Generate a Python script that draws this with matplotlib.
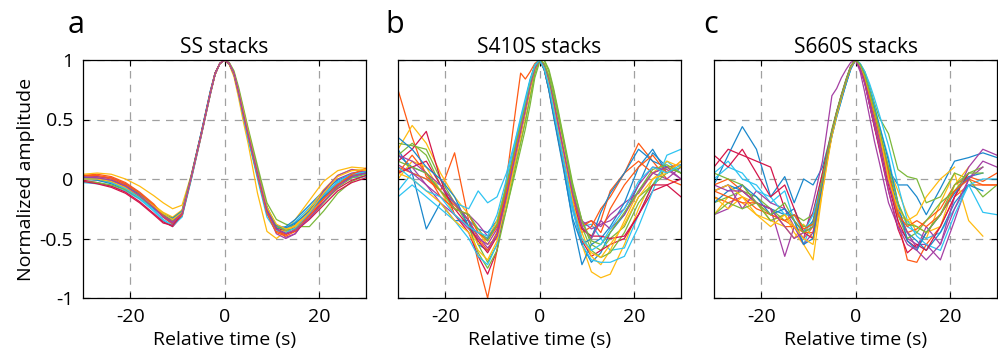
import numpy as np
import matplotlib
matplotlib.use("Agg")
import matplotlib.pyplot as plt

plt.rcParams['font.family'] = ['Open Sans', 'DejaVu Sans']

# shared time axis of the stacks (s)
t_sec = [-30, -27, -24, -21, -18, -15, -13, -11, -9, -7, -5, -4, -3, -2, -1, 0,
         1, 2, 3, 4, 5, 7, 9, 11, 13, 15, 18, 21, 24, 27, 30]
nan = np.nan

# panel a: SS stacks
ss_traces = [
    [0.02, 0.01, -0.01, -0.05, -0.12, -0.22, -0.31, -0.36, -0.29, 0.03, 0.37, 0.54, 0.72, 0.88, 0.97, 1.0, 0.97, 0.89, 0.73, 0.55, 0.38, 0.05, -0.26, -0.40, -0.42, -0.38, -0.26, -0.13, -0.03, 0.03, 0.06],
    [0.03, 0.04, 0.02, -0.03, -0.11, -0.21, -0.30, -0.37, -0.31, 0.01, 0.35, 0.53, 0.71, 0.88, 0.97, 1.0, 0.97, 0.89, 0.74, 0.56, 0.40, 0.07, -0.26, -0.43, -0.46, -0.40, -0.28, -0.15, -0.04, 0.04, 0.08],
    [0.04, 0.05, 0.04, 0.00, -0.06, -0.14, -0.20, -0.25, -0.22, 0.04, 0.37, 0.54, 0.72, 0.88, 0.97, 1.0, 0.96, 0.86, 0.68, 0.48, 0.30, -0.12, -0.44, -0.50, -0.44, -0.34, -0.18, -0.02, 0.07, 0.10, 0.09],
    [0.01, 0.00, -0.02, -0.07, -0.14, -0.24, -0.32, -0.38, -0.30, 0.02, 0.36, 0.54, 0.72, 0.88, 0.97, 1.0, 0.97, 0.89, 0.74, 0.56, 0.39, 0.07, -0.24, -0.42, -0.49, -0.46, -0.30, -0.12, 0.00, 0.05, 0.07],
    [0.00, -0.01, -0.03, -0.08, -0.15, -0.24, -0.31, -0.35, -0.28, 0.03, 0.37, 0.55, 0.73, 0.89, 0.97, 1.0, 0.98, 0.91, 0.77, 0.60, 0.43, 0.11, -0.20, -0.34, -0.38, -0.40, -0.40, -0.27, -0.12, -0.02, 0.03],
    [-0.03, -0.04, -0.06, -0.10, -0.17, -0.27, -0.35, -0.40, -0.31, 0.03, 0.38, 0.56, 0.74, 0.89, 0.97, 1.0, 0.97, 0.88, 0.71, 0.52, 0.34, 0.00, -0.32, -0.44, -0.42, -0.36, -0.24, -0.12, -0.03, 0.01, 0.02],
    [-0.01, -0.03, -0.06, -0.11, -0.19, -0.29, -0.36, -0.40, -0.31, 0.02, 0.37, 0.55, 0.73, 0.89, 0.97, 1.0, 0.97, 0.89, 0.74, 0.56, 0.39, 0.07, -0.24, -0.41, -0.44, -0.41, -0.31, -0.19, -0.08, -0.01, 0.03],
    [0.00, -0.01, -0.04, -0.09, -0.16, -0.25, -0.31, -0.34, -0.27, 0.04, 0.38, 0.56, 0.74, 0.89, 0.97, 1.0, 0.97, 0.88, 0.72, 0.53, 0.35, 0.02, -0.29, -0.42, -0.40, -0.34, -0.22, -0.10, -0.01, 0.04, 0.05],
    [0.02, 0.02, 0.00, -0.05, -0.13, -0.23, -0.32, -0.38, -0.31, 0.01, 0.36, 0.54, 0.72, 0.88, 0.97, 1.0, 0.97, 0.89, 0.73, 0.55, 0.38, 0.05, -0.27, -0.44, -0.47, -0.42, -0.29, -0.16, -0.05, 0.03, 0.06],
    [0.02, 0.01, -0.02, -0.06, -0.13, -0.22, -0.28, -0.32, -0.26, 0.03, 0.36, 0.54, 0.72, 0.88, 0.97, 1.0, 0.97, 0.88, 0.72, 0.54, 0.37, 0.04, -0.28, -0.43, -0.44, -0.39, -0.25, -0.09, 0.03, 0.08, 0.07],
    [0.01, 0.02, 0.01, -0.04, -0.12, -0.23, -0.31, -0.37, -0.30, 0.02, 0.36, 0.54, 0.72, 0.88, 0.97, 1.0, 0.97, 0.88, 0.72, 0.54, 0.37, 0.04, -0.28, -0.46, -0.50, -0.46, -0.30, -0.10, 0.03, 0.08, 0.06],
    [-0.02, -0.03, -0.05, -0.09, -0.16, -0.24, -0.29, -0.33, -0.27, 0.03, 0.36, 0.54, 0.72, 0.88, 0.97, 1.0, 0.97, 0.89, 0.75, 0.58, 0.41, 0.08, -0.23, -0.40, -0.43, -0.42, -0.33, -0.20, -0.07, 0.01, 0.04],
    [0.00, 0.00, -0.03, -0.08, -0.16, -0.26, -0.34, -0.39, -0.32, 0.00, 0.35, 0.53, 0.71, 0.88, 0.97, 1.0, 0.97, 0.88, 0.72, 0.53, 0.36, 0.03, -0.29, -0.43, -0.45, -0.41, -0.29, -0.14, -0.02, 0.04, 0.06],
    [-0.02, -0.04, -0.07, -0.12, -0.20, -0.30, -0.37, -0.39, -0.30, 0.03, 0.37, 0.55, 0.73, 0.89, 0.97, 1.0, 0.97, 0.89, 0.73, 0.55, 0.38, 0.05, -0.26, -0.42, -0.46, -0.44, -0.34, -0.22, -0.10, -0.03, 0.01],
    [0.01, 0.00, -0.02, -0.06, -0.13, -0.23, -0.30, -0.33, -0.27, 0.02, 0.36, 0.54, 0.72, 0.88, 0.97, 1.0, 0.97, 0.89, 0.74, 0.56, 0.39, 0.06, -0.25, -0.39, -0.41, -0.37, -0.27, -0.15, -0.05, 0.02, 0.05],
    [0.03, 0.03, 0.01, -0.04, -0.12, -0.22, -0.31, -0.36, -0.30, 0.02, 0.36, 0.54, 0.72, 0.88, 0.97, 1.0, 0.97, 0.88, 0.72, 0.54, 0.37, 0.03, -0.29, -0.45, -0.48, -0.44, -0.31, -0.17, -0.05, 0.04, 0.09],
    [0.00, 0.00, -0.02, -0.07, -0.14, -0.23, -0.29, -0.34, -0.28, 0.02, 0.36, 0.54, 0.72, 0.88, 0.97, 1.0, 0.97, 0.89, 0.74, 0.57, 0.40, 0.06, -0.24, -0.38, -0.42, -0.40, -0.28, -0.12, 0.02, 0.07, 0.08],
    [0.02, 0.01, -0.01, -0.06, -0.14, -0.24, -0.32, -0.36, -0.29, 0.02, 0.36, 0.54, 0.72, 0.88, 0.97, 1.0, 0.97, 0.89, 0.73, 0.55, 0.38, 0.05, -0.26, -0.42, -0.46, -0.43, -0.33, -0.19, -0.06, 0.02, 0.05],
]

# panel b: S410S stacks
s410s_traces = [
    [0.20, 0.10, 0.05, -0.10, -0.20, -0.35, -0.42, -0.45, -0.35, -0.05, 0.30, 0.47, 0.64, 0.81, 0.95, 1.0, 0.93, 0.78, 0.58, 0.38, 0.18, -0.25, -0.55, -0.70, -0.62, -0.45, -0.30, -0.05, 0.22, 0.10, nan],
    [0.75, 0.35, 0.02, -0.10, 0.22, -0.35, -0.70, -1.00, -0.60, 0.00, 0.60, 0.89, 0.84, 0.90, 0.97, 1.0, 0.92, 0.75, 0.54, 0.34, 0.14, -0.20, -0.42, -0.48, -0.35, -0.10, 0.05, 0.30, 0.15, 0.00, -0.05],
    [0.25, 0.45, 0.30, 0.05, -0.15, -0.30, -0.45, -0.55, -0.50, -0.20, 0.15, 0.32, 0.50, 0.70, 0.90, 1.0, 0.96, 0.84, 0.66, 0.46, 0.26, -0.18, -0.55, -0.78, -0.83, -0.80, -0.55, -0.25, 0.00, 0.10, 0.05],
    [0.05, 0.10, -0.05, -0.15, -0.25, -0.30, -0.38, -0.48, -0.40, -0.10, 0.27, 0.44, 0.61, 0.79, 0.94, 1.0, 0.94, 0.79, 0.60, 0.40, 0.20, -0.20, -0.38, -0.35, -0.40, -0.30, -0.20, -0.12, 0.05, 0.00, 0.10],
    [0.30, 0.28, 0.25, 0.00, -0.20, -0.35, -0.55, -0.70, -0.55, -0.25, 0.08, 0.25, 0.42, 0.62, 0.85, 0.98, 1.0, 0.92, 0.76, 0.57, 0.37, -0.03, -0.35, -0.55, -0.60, -0.50, -0.40, -0.15, -0.05, 0.05, 0.10],
    [-0.10, 0.05, 0.00, -0.05, -0.20, -0.25, -0.10, -0.20, -0.15, 0.05, 0.35, 0.52, 0.68, 0.84, 0.96, 1.0, 0.92, 0.76, 0.55, 0.35, 0.15, -0.25, -0.40, -0.38, -0.50, -0.60, -0.58, -0.30, -0.05, 0.15, 0.05],
    [0.15, 0.25, 0.40, 0.00, -0.30, -0.45, -0.65, -0.80, -0.60, -0.15, 0.25, 0.43, 0.62, 0.80, 0.94, 1.0, 0.94, 0.79, 0.59, 0.39, 0.19, -0.22, -0.52, -0.65, -0.60, -0.55, -0.50, -0.30, -0.10, -0.05, 0.00],
    [0.25, 0.05, -0.42, -0.20, -0.35, -0.35, -0.55, -0.60, -0.45, -0.12, 0.28, 0.45, 0.64, 0.82, 0.95, 1.0, 0.92, 0.75, 0.54, 0.33, 0.12, -0.35, -0.72, -0.55, -0.50, -0.40, -0.20, 0.10, 0.25, 0.05, nan],
    [0.10, 0.05, 0.00, -0.10, -0.22, -0.35, -0.50, -0.60, -0.45, -0.10, 0.25, 0.43, 0.62, 0.80, 0.94, 1.0, 0.92, 0.75, 0.54, 0.33, 0.13, -0.22, -0.45, -0.40, -0.25, -0.15, 0.05, 0.15, 0.05, 0.10, 0.12],
    [0.00, 0.15, 0.10, -0.10, -0.30, -0.40, -0.55, -0.50, -0.35, -0.05, 0.28, 0.45, 0.62, 0.80, 0.94, 1.0, 0.97, 0.87, 0.71, 0.52, 0.32, -0.08, -0.45, -0.65, -0.72, -0.60, -0.35, -0.10, 0.05, 0.15, 0.10],
    [0.12, 0.05, -0.05, -0.20, -0.30, -0.42, -0.50, -0.55, -0.42, -0.12, 0.22, 0.39, 0.57, 0.77, 0.93, 1.0, 0.96, 0.83, 0.64, 0.44, 0.24, -0.13, -0.35, -0.42, -0.38, -0.35, -0.25, -0.05, 0.10, 0.08, 0.00],
    [0.20, 0.30, 0.20, -0.05, -0.20, -0.40, -0.62, -0.75, -0.60, -0.25, 0.12, 0.30, 0.48, 0.68, 0.88, 1.0, 1.0, 0.90, 0.74, 0.55, 0.35, -0.08, -0.40, -0.60, -0.66, -0.62, -0.45, -0.20, -0.05, 0.10, 0.05],
    [-0.15, -0.05, -0.15, -0.25, -0.35, -0.50, -0.65, -0.72, -0.55, -0.15, 0.22, 0.40, 0.59, 0.79, 0.94, 1.0, 0.93, 0.77, 0.56, 0.36, 0.16, -0.26, -0.55, -0.68, -0.70, -0.70, -0.65, -0.40, -0.10, 0.20, 0.25],
    [0.05, 0.10, 0.15, -0.05, -0.25, -0.40, -0.52, -0.62, -0.48, -0.15, 0.20, 0.38, 0.57, 0.77, 0.93, 1.0, 0.95, 0.80, 0.60, 0.40, 0.20, -0.18, -0.42, -0.48, -0.48, -0.50, -0.48, -0.30, -0.05, -0.05, -0.15],
    [0.35, 0.25, 0.10, 0.00, -0.15, -0.40, -0.45, -0.50, -0.38, -0.08, 0.30, 0.47, 0.65, 0.82, 0.95, 1.0, 0.92, 0.74, 0.52, 0.31, 0.10, -0.33, -0.55, -0.50, -0.28, -0.12, 0.05, 0.25, 0.15, 0.10, nan],
    [0.05, 0.20, 0.05, -0.15, -0.25, -0.30, -0.45, -0.52, -0.40, -0.10, 0.28, 0.45, 0.63, 0.81, 0.95, 1.0, 0.95, 0.82, 0.64, 0.45, 0.26, -0.15, -0.40, -0.35, -0.45, -0.25, -0.05, 0.10, 0.20, 0.05, 0.15],
    [0.05, 0.00, -0.10, -0.20, -0.35, -0.45, -0.60, -0.68, -0.52, -0.18, 0.20, 0.38, 0.57, 0.77, 0.93, 1.0, 0.94, 0.80, 0.60, 0.40, 0.22, -0.18, -0.50, -0.62, -0.66, -0.55, -0.38, -0.15, 0.00, 0.05, 0.15],
    [0.20, 0.15, 0.05, -0.05, -0.20, -0.35, -0.48, -0.58, -0.48, -0.15, 0.22, 0.40, 0.58, 0.78, 0.93, 1.0, 0.96, 0.84, 0.66, 0.46, 0.26, -0.12, -0.40, -0.50, -0.35, -0.42, -0.30, -0.10, 0.05, 0.10, 0.00],
    [0.15, 0.10, 0.05, -0.10, -0.25, -0.30, -0.42, -0.52, -0.38, -0.05, 0.30, 0.46, 0.63, 0.81, 0.95, 1.0, 0.97, 0.86, 0.70, 0.52, 0.34, -0.05, -0.35, -0.52, -0.55, -0.45, -0.28, -0.10, 0.08, 0.12, 0.05],
    [0.10, 0.00, -0.10, -0.15, -0.30, -0.40, -0.45, -0.48, -0.30, 0.00, 0.34, 0.50, 0.66, 0.83, 0.95, 1.0, 0.93, 0.78, 0.58, 0.38, 0.18, -0.22, -0.50, -0.60, -0.55, -0.42, -0.25, -0.02, 0.10, 0.05, 0.12],
]

# panel c: S660S stacks
s660s_traces = [
    [-0.05, 0.20, 0.44, 0.25, -0.15, 0.02, -0.20, 0.00, -0.05, 0.10, 0.40, 0.55, 0.68, 0.80, 0.93, 1.0, 0.95, 0.85, 0.70, 0.52, 0.35, 0.08, -0.05, -0.05, -0.15, -0.30, -0.08, 0.15, 0.18, 0.22, 0.18],
    [-0.15, -0.20, -0.15, -0.25, -0.30, -0.35, -0.40, -0.50, -0.40, 0.02, 0.40, 0.56, 0.70, 0.82, 0.94, 1.0, 0.94, 0.82, 0.65, 0.48, 0.32, 0.00, -0.35, -0.68, -0.70, -0.55, -0.40, -0.15, -0.05, -0.05, -0.05],
    [-0.30, -0.15, -0.20, -0.30, -0.35, -0.30, -0.45, -0.55, -0.68, -0.10, 0.38, 0.55, 0.70, 0.83, 0.94, 1.0, 0.96, 0.86, 0.72, 0.56, 0.40, 0.10, -0.10, -0.30, -0.45, -0.50, -0.20, 0.05, -0.35, -0.48, nan],
    [-0.30, -0.25, -0.05, -0.20, -0.25, -0.65, -0.40, -0.50, -0.20, 0.15, 0.70, 0.76, 0.85, 0.92, 0.98, 1.0, 0.90, 0.72, 0.52, 0.32, 0.15, -0.20, -0.40, -0.50, -0.55, -0.55, -0.68, -0.35, 0.00, 0.15, 0.10],
    [-0.20, -0.15, -0.10, -0.15, -0.25, -0.35, -0.30, -0.35, -0.30, 0.05, 0.42, 0.57, 0.71, 0.84, 0.95, 1.0, 0.97, 0.90, 0.78, 0.64, 0.52, 0.38, 0.08, 0.02, 0.00, -0.20, -0.15, 0.05, 0.00, -0.15, -0.05],
    [0.05, 0.15, 0.00, -0.05, -0.20, -0.10, -0.35, -0.55, -0.35, 0.00, 0.36, 0.52, 0.66, 0.80, 0.92, 1.0, 0.96, 0.88, 0.76, 0.62, 0.46, 0.18, -0.20, -0.40, -0.45, -0.50, -0.45, -0.25, -0.05, -0.28, -0.30],
    [0.10, 0.25, 0.20, 0.15, 0.10, -0.25, -0.35, -0.45, -0.28, 0.05, 0.40, 0.55, 0.69, 0.82, 0.94, 1.0, 0.93, 0.80, 0.62, 0.44, 0.28, -0.05, -0.35, -0.52, -0.58, -0.45, -0.30, -0.10, 0.00, nan, nan],
    [-0.10, -0.05, -0.10, -0.20, -0.25, -0.30, -0.25, -0.45, -0.35, 0.00, 0.36, 0.52, 0.66, 0.80, 0.93, 1.0, 0.96, 0.86, 0.72, 0.56, 0.40, 0.08, -0.25, -0.45, -0.52, -0.60, -0.45, -0.20, -0.05, -0.10, nan],
    [-0.05, 0.00, -0.10, -0.20, -0.25, -0.40, -0.40, -0.45, -0.45, 0.00, 0.40, 0.56, 0.70, 0.83, 0.95, 1.0, 0.94, 0.83, 0.67, 0.50, 0.33, 0.00, -0.28, -0.45, -0.42, -0.35, -0.25, -0.05, 0.02, -0.02, 0.05],
    [-0.15, -0.25, -0.15, -0.20, -0.35, -0.40, -0.50, -0.38, -0.50, -0.05, 0.38, 0.55, 0.69, 0.82, 0.94, 1.0, 0.95, 0.84, 0.68, 0.52, 0.36, 0.02, -0.30, -0.35, -0.40, -0.45, -0.40, -0.05, 0.10, nan, nan],
    [-0.10, -0.05, -0.25, -0.10, -0.20, -0.25, -0.40, -0.55, -0.45, -0.05, 0.40, 0.56, 0.70, 0.83, 0.95, 1.0, 0.94, 0.82, 0.66, 0.50, 0.34, -0.02, -0.30, -0.45, -0.58, -0.40, -0.55, -0.15, 0.10, 0.25, 0.20],
    [-0.30, -0.20, -0.25, -0.20, -0.35, -0.30, -0.30, -0.40, -0.38, -0.02, 0.38, 0.55, 0.69, 0.82, 0.94, 1.0, 0.95, 0.84, 0.70, 0.55, 0.40, 0.05, -0.30, -0.50, -0.45, -0.35, -0.20, -0.10, 0.05, 0.10, nan],
    [0.00, 0.10, 0.05, -0.10, -0.15, -0.30, -0.30, -0.45, -0.30, 0.00, 0.38, 0.54, 0.68, 0.81, 0.93, 1.0, 0.97, 0.90, 0.80, 0.68, 0.55, 0.28, -0.05, -0.35, -0.48, -0.55, -0.60, -0.30, -0.05, 0.00, 0.00],
    [0.20, 0.10, 0.25, 0.05, -0.15, -0.05, -0.25, -0.45, -0.50, -0.05, 0.38, 0.55, 0.69, 0.82, 0.94, 1.0, 0.93, 0.80, 0.62, 0.44, 0.26, -0.10, -0.42, -0.62, -0.55, -0.60, -0.40, -0.15, 0.05, nan, nan],
    [-0.20, -0.10, -0.05, -0.15, -0.30, -0.25, -0.35, -0.55, -0.50, -0.05, 0.38, 0.54, 0.68, 0.81, 0.93, 1.0, 0.96, 0.87, 0.74, 0.60, 0.46, 0.15, -0.20, -0.52, -0.60, -0.45, -0.30, -0.12, 0.02, 0.05, nan],
    [-0.10, -0.15, -0.20, -0.20, -0.30, -0.35, -0.30, -0.42, -0.38, 0.00, 0.38, 0.55, 0.69, 0.82, 0.94, 1.0, 0.95, 0.85, 0.70, 0.55, 0.40, 0.06, -0.30, -0.40, -0.35, -0.40, -0.30, -0.10, 0.00, -0.05, -0.05],
    [-0.10, -0.05, -0.15, -0.30, -0.40, -0.30, -0.40, -0.50, -0.55, -0.10, 0.36, 0.53, 0.68, 0.82, 0.94, 1.0, 0.95, 0.86, 0.72, 0.57, 0.42, 0.00, -0.25, -0.35, -0.30, -0.15, 0.00, 0.10, nan, nan, nan],
    [-0.05, -0.10, -0.10, -0.20, -0.25, -0.40, -0.50, -0.45, -0.40, 0.00, 0.40, 0.56, 0.70, 0.83, 0.95, 1.0, 0.93, 0.80, 0.62, 0.45, 0.28, -0.10, -0.40, -0.55, -0.60, -0.68, -0.55, -0.25, 0.00, 0.10, nan],
    [0.05, 0.00, -0.05, -0.20, -0.30, -0.20, -0.35, -0.45, -0.40, 0.00, 0.40, 0.56, 0.70, 0.83, 0.95, 1.0, 0.96, 0.87, 0.73, 0.58, 0.43, 0.10, -0.20, -0.38, -0.40, -0.45, -0.30, -0.05, 0.05, 0.05, nan],
]

line_colors = ['#1a88cc', '#ff5a14', '#ffbb10', '#a53fa4', '#7bb83a', '#2ec4f2', '#d4154a']
panel_titles = ['SS stacks', 'S410S stacks', 'S660S stacks']
panel_letters = ['a', 'b', 'c']
x_ticks = [-20, 0, 20]
x_tick_labels = ['-20', '0', '20']
y_ticks = [-1, -0.5, 0, 0.5, 1]
y_tick_labels = ['-1', '-0.5', '0', '0.5', '1']

fig = plt.figure(figsize=(9.98, 3.56), dpi=100)
lefts = [83, 398, 714]
letter_x = [68, 385, 703]

for k, traces in enumerate([ss_traces, s410s_traces, s660s_traces]):
    ax = fig.add_axes([lefts[k] / 998, 58 / 356, 283 / 998, 238 / 356])
    for i, tr in enumerate(traces):
        ax.plot(t_sec, tr, color=line_colors[i % len(line_colors)], lw=0.9)
    ax.set_xlim(-30, 30)
    ax.set_ylim(-1, 1)
    ax.set_xticks(x_ticks)
    ax.set_xticklabels(x_tick_labels)
    ax.set_yticks(y_ticks)
    if k == 0:
        ax.set_yticklabels(y_tick_labels)
        ax.set_ylabel('Normalized amplitude', fontsize=14, labelpad=3)
    else:
        ax.set_yticklabels([])
    ax.grid(True, color='#a0a0a0', linestyle=(0, (6, 5)), linewidth=0.9)
    ax.set_axisbelow(True)
    ax.tick_params(direction='in', length=4, width=0.8, top=True, right=True,
                   labelsize=14, pad=7)
    for s in ax.spines.values():
        s.set_linewidth(0.9)
    ax.set_xlabel('Relative time (s)', fontsize=14, labelpad=4)
    ax.set_title(panel_titles[k], fontsize=15, pad=5)
    fig.text(letter_x[k] / 998, 1 - 33 / 356, panel_letters[k], fontsize=22,
             va='baseline', ha='left')

fig.savefig('out.png', dpi=100)
